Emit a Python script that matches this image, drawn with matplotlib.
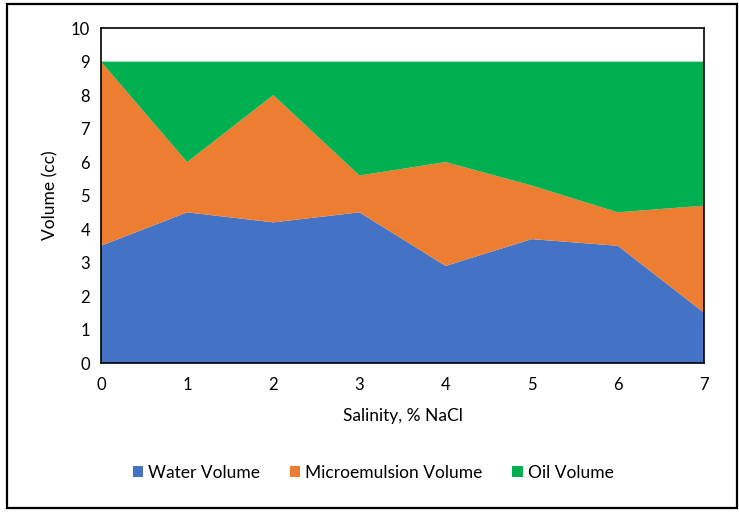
import matplotlib
matplotlib.use("Agg")
from matplotlib import pyplot as plt
from matplotlib.patches import Rectangle

plt.rcParams['font.family'] = ['Lato', 'DejaVu Sans']

salinity = [0, 1, 2, 3, 4, 5, 6, 7]
water_volume = [3.5, 4.5, 4.2, 4.5, 2.9, 3.7, 3.5, 1.5]
micro_volume = [5.5, 1.5, 3.8, 1.1, 3.1, 1.6, 1.0, 3.2]
oil_volume = [0.0, 3.0, 1.0, 3.4, 3.0, 3.7, 4.5, 4.3]
series_names = ['Water Volume', 'Microemulsion Volume', 'Oil Volume']
series_colors = ['#4472C4', '#ED7D31', '#00B050']

fig = plt.figure(figsize=(7.39, 5.12), dpi=100)
ax = fig.add_axes([0.1367, 0.291, 0.816, 0.654])

ax.stackplot(salinity, water_volume, micro_volume, oil_volume,
             labels=series_names, colors=series_colors, linewidth=0)

ax.set_xlim(0, 7)
ax.set_ylim(0, 10)
ax.set_xticks(range(0, 8))
ax.set_yticks(range(0, 11))
ax.tick_params(length=0, labelsize=12, pad=10)
ax.tick_params(axis='y', pad=8)
for s in ax.spines.values():
    s.set_linewidth(1.2)
    s.set_color('black')

ax.set_xlabel('Salinity, % NaCl', fontsize=12.5, labelpad=11)
ax.set_ylabel('Volume (cc)', fontsize=12.5, labelpad=9)

handles, labels = ax.get_legend_handles_labels()
fig.legend(handles, labels, loc='center', bbox_to_anchor=(0.505, 0.076), ncol=3,
           frameon=False, fontsize=12.5, handlelength=0.6, handleheight=0.6,
           handletextpad=0.3, columnspacing=1.7)

fig.patches.append(Rectangle((0.009, 0.008), 0.988, 0.985, transform=fig.transFigure,
                             fill=False, edgecolor='black', linewidth=1.6))

fig.savefig('out.png', dpi=100)
